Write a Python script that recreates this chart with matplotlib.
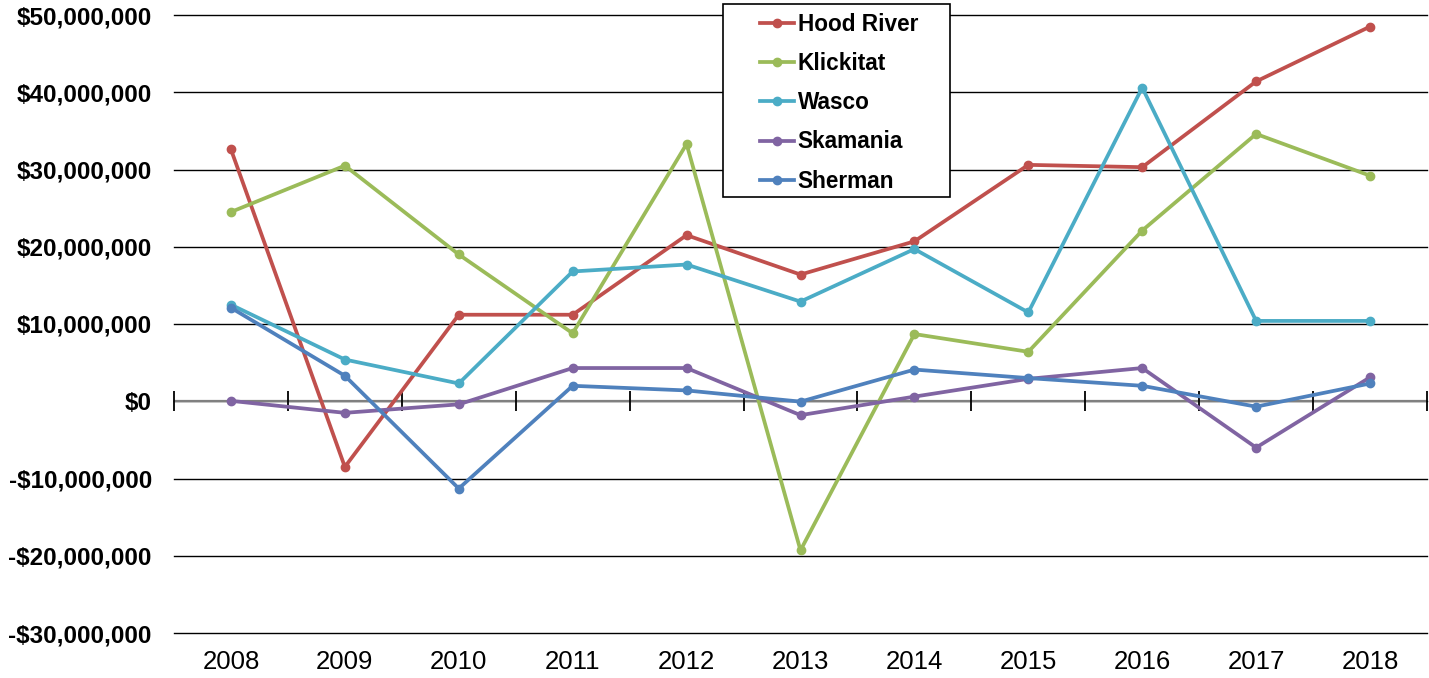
import matplotlib.pyplot as plt
from matplotlib.patches import Rectangle
from matplotlib.ticker import FuncFormatter

years = ["2008", "2009", "2010", "2011", "2012", "2013", "2014", "2015", "2016", "2017", "2018"]
hood_river = [32.6, -8.5, 11.2, 11.2, 21.5, 16.4, 20.7, 30.6, 30.3, 41.4, 48.5]
klickitat = [24.5, 30.5, 19.0, 8.8, 33.3, -19.3, 8.7, 6.4, 22.1, 34.6, 29.2]
wasco = [12.5, 5.4, 2.3, 16.8, 17.7, 12.9, 19.7, 11.5, 40.6, 10.4, 10.4]
skamania = [0.05, -1.5, -0.4, 4.3, 4.3, -1.8, 0.6, 2.9, 4.3, -6.0, 3.1]
sherman = [12.1, 3.3, -11.3, 2.0, 1.4, -0.05, 4.1, 3.0, 2.0, -0.7, 2.3]

names = ["Hood River", "Klickitat", "Wasco", "Skamania", "Sherman"]
colors = ["#C0504D", "#9BBB59", "#4BACC6", "#8064A2", "#4F81BD"]
series = [hood_river, klickitat, wasco, skamania, sherman]

fig = plt.figure(figsize=(14.29, 6.78), dpi=100)
ax = fig.add_axes([174 / 1429, 1 - 633 / 678, 1253 / 1429, 618 / 678])

x = list(range(len(years)))
ax.set_ylim(-30e6, 50e6)
ax.set_xlim(-0.5, len(years) - 0.5)
ax.set_yticks([v * 1e6 for v in range(-30, 51, 10)])
ax.grid(axis="y", color="black", linewidth=1.0, zorder=0)
ax.set_axisbelow(True)
for gl in ax.get_ygridlines():
    gl.set_clip_on(False)

for s in ax.spines.values():
    s.set_visible(False)

# horizontal axis at zero, with crossing tick marks between categories
ax.axhline(0, color="#808080", linewidth=1.6, zorder=1)
bounds = [i - 0.5 for i in range(len(years) + 1)]
ax.plot(bounds, [0] * len(bounds), linestyle="none", marker="|",
        markersize=15, markeredgewidth=1.3, color="black", zorder=1, clip_on=False)

handles = []
for name, vals, c in zip(names, series, colors):
    h, = ax.plot(x, [v * 1e6 for v in vals], color=c, linewidth=2.7,
                 marker="o", markersize=6, label=name, zorder=3)
    handles.append(h)

def money(v, pos):
    v = int(round(v))
    if v < 0:
        return "-${:,}".format(-v)
    return "${:,}".format(v)

ax.yaxis.set_major_formatter(FuncFormatter(money))
ax.set_xticks(x)
ax.set_xticklabels(years)
ax.tick_params(axis="y", length=0, pad=16, labelsize=17.5)
ax.tick_params(axis="x", length=0, pad=12, labelsize=18.5)
for t in ax.get_yticklabels():
    t.set_fontfamily("Liberation Sans")
    t.set_fontweight("bold")
for t in ax.get_xticklabels():
    t.set_fontfamily("Liberation Sans")

# legend box
fig.patches.append(Rectangle((723 / 1429, 1 - 197 / 678), 227 / 1429, 193 / 678,
                             transform=fig.transFigure, facecolor="white",
                             edgecolor="black", linewidth=1.2, zorder=5))
leg = fig.legend(handles=handles, loc="upper left",
                 bbox_to_anchor=(758 / 1429, 1 - 11 / 678), bbox_transform=fig.transFigure,
                 frameon=False, borderaxespad=0, borderpad=0.1,
                 handlelength=1.5, handletextpad=0.15, labelspacing=0.71,
                 prop={"family": "Liberation Sans", "weight": "bold", "size": 16.3})
leg.set_zorder(6)

fig.savefig("out.png", dpi=100)
